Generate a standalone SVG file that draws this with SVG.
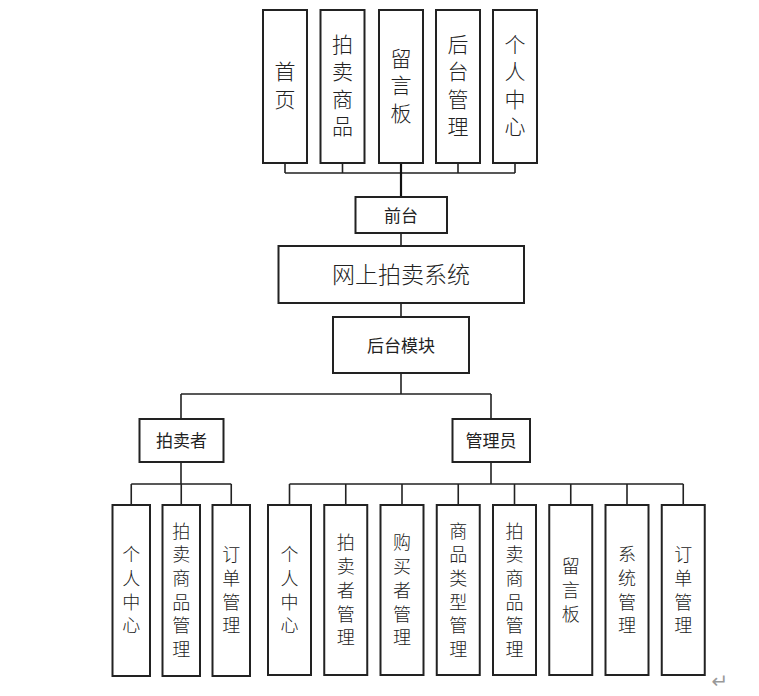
<svg xmlns="http://www.w3.org/2000/svg" width="759" height="696" viewBox="0 0 759 696">
<style>
.box{fill:#fff;stroke:#222;stroke-width:2}
.ln{fill:none;stroke:#222;stroke-width:1.6}
.thick{fill:none;stroke:#111;stroke-width:2.2}
text{font-family:"Noto Sans CJK SC","Noto Sans",sans-serif;fill:#222;text-anchor:middle}
.t1{font-size:21px;font-weight:300}
.t2{font-size:18px;font-weight:300}
.t3{font-size:17px}
.t4{font-size:23px;font-weight:300}
</style>
<rect width="759" height="696" fill="#fff"/>
<g id="connectors">
<path class="ln" d="M285,163V173M342.5,163V173M458,163V173M515,163V173M285,173H515"/>
<path class="thick" d="M401,163V197"/>
<path class="ln" d="M401,233V246M401,303V317M401,373V394M181,394H491M181,394V419M491,394V419"/>
<path class="ln" d="M181,462V484M131.25,484H231.25M131.25,484V505M181.25,484V505M231.25,484V505"/>
<path class="ln" d="M491,462V484M289.5,484H683.25M289.5,484V505M345.75,484V505M402,484V505M458.25,484V505M514.5,484V505M570.75,484V505M627,484V505M683.25,484V505"/>
</g>
<g id="n_home"><rect class="box" x="263" y="10" width="44" height="153"/><text class="t1"><tspan x="285" y="79">首</tspan><tspan x="285" y="106.5">页</tspan></text></g>
<g id="n_goods"><rect class="box" x="320.5" y="10" width="44" height="153"/><text class="t1"><tspan x="342.5" y="51.7">拍</tspan><tspan x="342.5" y="79.2">卖</tspan><tspan x="342.5" y="106.7">商</tspan><tspan x="342.5" y="134.2">品</tspan></text></g>
<g id="n_msg"><rect class="box" x="379" y="10" width="44" height="153"/><text class="t1"><tspan x="401" y="65.5">留</tspan><tspan x="401" y="93">言</tspan><tspan x="401" y="120.5">板</tspan></text></g>
<g id="n_admin"><rect class="box" x="436" y="10" width="44" height="153"/><text class="t1"><tspan x="458" y="51.7">后</tspan><tspan x="458" y="79.2">台</tspan><tspan x="458" y="106.7">管</tspan><tspan x="458" y="134.2">理</tspan></text></g>
<g id="n_user"><rect class="box" x="493" y="10" width="44" height="153"/><text class="t1"><tspan x="515" y="51.7">个</tspan><tspan x="515" y="79.2">人</tspan><tspan x="515" y="106.7">中</tspan><tspan x="515" y="134.2">心</tspan></text></g>
<g id="n_front"><rect class="box" x="355.5" y="197" width="91.5" height="36"/><text class="t3" x="401" y="221.5">前台</text></g>
<g id="n_system"><rect class="box" x="278.5" y="246" width="245.5" height="57"/><text class="t4" x="401" y="283">网上拍卖系统</text></g>
<g id="n_back"><rect class="box" x="333" y="317" width="136" height="56"/><text class="t3" x="401" y="351.5">后台模块</text></g>
<g id="n_seller"><rect class="box" x="139.5" y="419" width="84" height="43"/><text class="t3" x="181.5" y="447">拍卖者</text></g>
<g id="n_manager"><rect class="box" x="452.5" y="419" width="77.5" height="43"/><text class="t3" x="491" y="447">管理员</text></g>
<g id="s_user"><rect class="box" x="112.5" y="505" width="37.5" height="171"/><text class="t2"><tspan x="131.25" y="561.3">个</tspan><tspan x="131.25" y="585">人</tspan><tspan x="131.25" y="608.7">中</tspan><tspan x="131.25" y="632.4">心</tspan></text></g>
<g id="s_goods"><rect class="box" x="162.5" y="505" width="37.5" height="171"/><text class="t2"><tspan x="181.25" y="537.6">拍</tspan><tspan x="181.25" y="561.3">卖</tspan><tspan x="181.25" y="585">商</tspan><tspan x="181.25" y="608.7">品</tspan><tspan x="181.25" y="632.4">管</tspan><tspan x="181.25" y="656.1">理</tspan></text></g>
<g id="s_order"><rect class="box" x="212.5" y="505" width="37.5" height="171"/><text class="t2"><tspan x="231.25" y="561.3">订</tspan><tspan x="231.25" y="585">单</tspan><tspan x="231.25" y="608.7">管</tspan><tspan x="231.25" y="632.4">理</tspan></text></g>
<g id="m_user"><rect class="box" x="268" y="505" width="43" height="170"/><text class="t2"><tspan x="289.5" y="561.3">个</tspan><tspan x="289.5" y="585">人</tspan><tspan x="289.5" y="608.7">中</tspan><tspan x="289.5" y="632.4">心</tspan></text></g>
<g id="m_seller"><rect class="box" x="324.25" y="505" width="43" height="170"/><text class="t2"><tspan x="345.75" y="549.4">拍</tspan><tspan x="345.75" y="573.1">卖</tspan><tspan x="345.75" y="596.8">者</tspan><tspan x="345.75" y="620.5">管</tspan><tspan x="345.75" y="644.2">理</tspan></text></g>
<g id="m_buyer"><rect class="box" x="380.5" y="505" width="43" height="170"/><text class="t2"><tspan x="402" y="549.4">购</tspan><tspan x="402" y="573.1">买</tspan><tspan x="402" y="596.8">者</tspan><tspan x="402" y="620.5">管</tspan><tspan x="402" y="644.2">理</tspan></text></g>
<g id="m_type"><rect class="box" x="436.75" y="505" width="43" height="170"/><text class="t2"><tspan x="458.25" y="537.6">商</tspan><tspan x="458.25" y="561.3">品</tspan><tspan x="458.25" y="585">类</tspan><tspan x="458.25" y="608.7">型</tspan><tspan x="458.25" y="632.4">管</tspan><tspan x="458.25" y="656.1">理</tspan></text></g>
<g id="m_goods"><rect class="box" x="493" y="505" width="43" height="170"/><text class="t2"><tspan x="514.5" y="537.6">拍</tspan><tspan x="514.5" y="561.3">卖</tspan><tspan x="514.5" y="585">商</tspan><tspan x="514.5" y="608.7">品</tspan><tspan x="514.5" y="632.4">管</tspan><tspan x="514.5" y="656.1">理</tspan></text></g>
<g id="m_msg"><rect class="box" x="549.25" y="505" width="43" height="170"/><text class="t2"><tspan x="570.75" y="573.1">留</tspan><tspan x="570.75" y="596.8">言</tspan><tspan x="570.75" y="620.5">板</tspan></text></g>
<g id="m_sys"><rect class="box" x="605.5" y="505" width="43" height="170"/><text class="t2"><tspan x="627" y="561.3">系</tspan><tspan x="627" y="585">统</tspan><tspan x="627" y="608.7">管</tspan><tspan x="627" y="632.4">理</tspan></text></g>
<g id="m_order"><rect class="box" x="661.75" y="505" width="43" height="170"/><text class="t2"><tspan x="683.25" y="561.3">订</tspan><tspan x="683.25" y="585">单</tspan><tspan x="683.25" y="608.7">管</tspan><tspan x="683.25" y="632.4">理</tspan></text></g>
<text x="720" y="688" style="font-family:'DejaVu Sans',sans-serif;font-size:20px;fill:#999">↵</text>
</svg>
